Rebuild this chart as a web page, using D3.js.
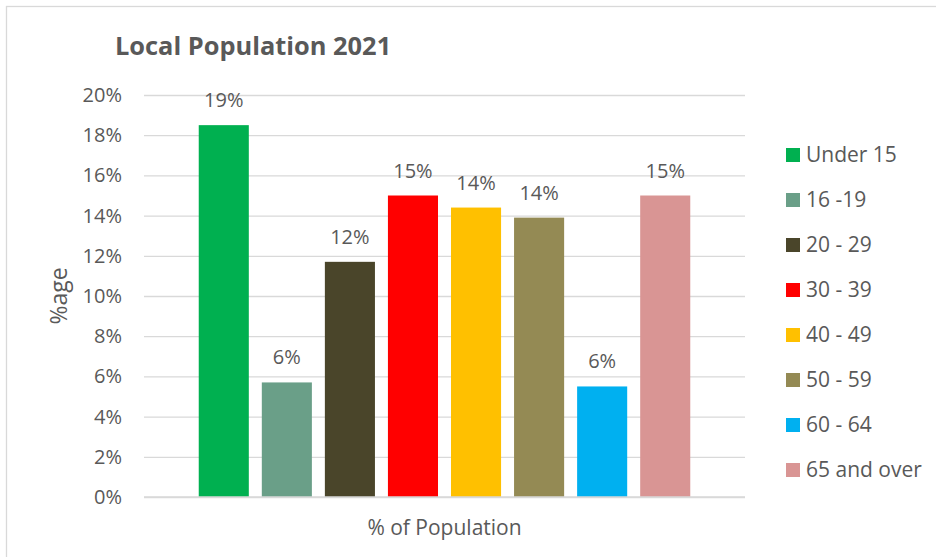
<!DOCTYPE html>
<html>
<head>
<meta charset="utf-8">
<script src="https://cdn.jsdelivr.net/npm/d3@7"></script>
<style>
  html, body { margin: 0; padding: 0; background: #fff; }
  svg { display: block; }
  text { font-family: "Open Sans", "Noto Sans", sans-serif; fill: #595959; }
</style>
</head>
<body>
<svg id="chart" width="936" height="557"></svg>
<script>
// Age groups and their share of the local population (percent)
const ageGroups = ["Under 15", "16 -19", "20 - 29", "30 - 39", "40 - 49", "50 - 59", "60 - 64", "65 and over"];
const shares = [18.5, 5.7, 11.7, 15.0, 14.4, 13.9, 5.5, 15.0];
const groupColors = ["#00b050", "#6a9f88", "#4a452a", "#ff0000", "#ffc000", "#948a54", "#00b0f0", "#d99594"];
const yTicks = [0, 2, 4, 6, 8, 10, 12, 14, 16, 18, 20];

const titleText = "Local Population 2021";
const yTitle = "%age";
const xTitle = "% of Population";

const svg = d3.select("#chart");

// chart frame
svg.append("rect")
  .attr("x", 6.5).attr("y", 6.5)
  .attr("width", 940).attr("height", 560)
  .attr("fill", "#fff")
  .attr("stroke", "#d9d9d9").attr("stroke-width", 1.3);

const plot = { left: 144, right: 745, top: 95, bottom: 497 };

const y = d3.scaleLinear().domain([0, 20]).range([plot.bottom, plot.top]);
const x = d3.scaleBand()
  .domain(ageGroups)
  .range([plot.left, plot.right])
  .paddingInner(0.206)
  .paddingOuter(0.868);

// horizontal gridlines + tick labels
const yAxis = d3.axisLeft(y)
  .tickValues(yTicks)
  .tickSize(-(plot.right - plot.left))
  .tickPadding(22)
  .tickFormat(d => d + "%");

const gAxis = svg.append("g")
  .attr("transform", `translate(${plot.left},0)`)
  .call(yAxis);
gAxis.select(".domain").remove();
gAxis.selectAll(".tick line").attr("stroke", "#d9d9d9").attr("stroke-width", 1.3);
gAxis.selectAll(".tick text")
  .attr("font-size", 20)
  .attr("fill", "#595959")
  .attr("font-family", "'Open Sans', sans-serif");

// bars
const data = ageGroups.map((g, i) => ({ group: g, value: shares[i], color: groupColors[i] }));

svg.append("g").selectAll("rect")
  .data(data)
  .join("rect")
  .attr("x", d => x(d.group))
  .attr("y", d => y(d.value))
  .attr("width", x.bandwidth())
  .attr("height", d => y(0) - y(d.value))
  .attr("fill", d => d.color);

// value labels
svg.append("g").selectAll("text")
  .data(data)
  .join("text")
  .attr("x", d => x(d.group) + x.bandwidth() / 2)
  .attr("y", d => y(d.value) - 18)
  .attr("text-anchor", "middle")
  .attr("font-size", 20)
  .text(d => Math.round(d.value) + "%");

// baseline (drawn over bars' bottom edge)
svg.append("line")
  .attr("x1", plot.left).attr("x2", plot.right)
  .attr("y1", y(0)).attr("y2", y(0))
  .attr("stroke", "#d9d9d9").attr("stroke-width", 1.3);

// title
svg.append("text")
  .attr("x", 115).attr("y", 55)
  .attr("font-size", 25.4)
  .attr("font-weight", "bold")
  .text(titleText);

// axis titles
svg.append("text")
  .attr("transform", `translate(67,${(plot.top + plot.bottom) / 2}) rotate(-90)`)
  .attr("text-anchor", "middle")
  .attr("font-size", 23)
  .text(yTitle);

svg.append("text")
  .attr("x", (plot.left + plot.right) / 2)
  .attr("y", 535)
  .attr("text-anchor", "middle")
  .attr("font-size", 21)
  .text(xTitle);

// legend
const legend = svg.append("g")
  .selectAll("g")
  .data(data)
  .join("g")
  .attr("transform", (d, i) => `translate(786,${155 + i * 45})`);

legend.append("rect")
  .attr("x", 0).attr("y", -7)
  .attr("width", 14).attr("height", 14)
  .attr("fill", d => d.color);

legend.append("text")
  .attr("x", 20).attr("y", 0)
  .attr("dy", "0.35em")
  .attr("font-size", 21)
  .text(d => d.group);
</script>
</body>
</html>
